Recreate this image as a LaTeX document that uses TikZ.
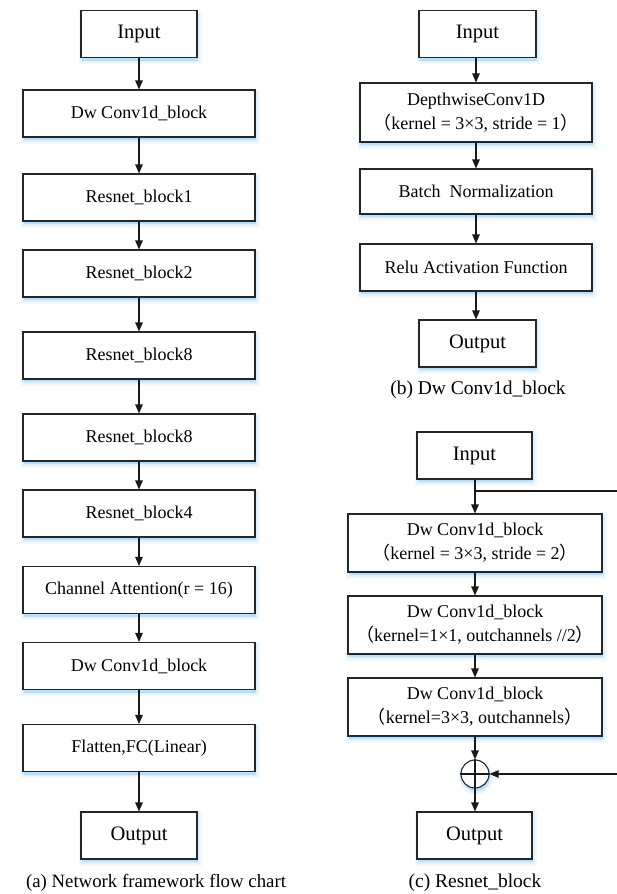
\documentclass[tikz,border=0pt]{standalone}
\usepackage{fontspec}
\setmainfont{Liberation Serif}
\newfontfamily\cjk{Noto Sans CJK SC}
\usetikzlibrary{arrows.meta}
\newcommand{\lp}{{\cjk （}}
\newcommand{\rp}{{\cjk ）}}
\colorlet{shadowblue}{blue!45!cyan!55!white}
\tikzset{
  % soft bluish shadow built from a few stacked, offset copies of the outline
  softshadow/.style={
    preaction={draw=shadowblue, fill=shadowblue, line width=7pt, opacity=0.10,
      transform canvas={shift={(1pt,-3pt)}}},
    preaction={draw=shadowblue, fill=shadowblue, line width=3.5pt, opacity=0.14,
      transform canvas={shift={(1pt,-3pt)}}},
    preaction={fill=shadowblue, opacity=0.2,
      transform canvas={shift={(1pt,-3pt)}}}},
  box/.style={softshadow, draw=black!85, line width=1.1pt, fill=white,
    inner sep=0pt, align=center, font=\fontsize{18}{24}\selectfont},
  wide/.style={box, minimum width=232pt, minimum height=47pt},
  io/.style={box, minimum width=116pt, minimum height=47pt,
    font=\fontsize{20.5}{24}\selectfont},
  res/.style={box, minimum width=254pt, minimum height=58pt},
  flow/.style={line width=1.1pt, draw=black!90,
    -{Triangle[length=9pt,width=7.5pt]}},
  plain/.style={line width=1.1pt, draw=black!90},
  caption/.style={font=\fontsize{19.5}{24}\selectfont, inner sep=0pt}
}
\begin{document}
\begin{tikzpicture}[x=1pt, y=-1pt]
\useasboundingbox (0,0) rectangle (617,894);

% (a) network framework
\node[io]   (ain) at (139,34)    {Input};
\node[wide] (a1)  at (139,113.5) {Dw Conv1d\_block};
\node[wide] (a2)  at (139,197.5) {Resnet\_block1};
\node[wide] (a3)  at (139,273.5) {Resnet\_block2};
\node[wide] (a4)  at (139,355.5) {Resnet\_block8};
\node[wide] (a5)  at (139,437.5) {Resnet\_block8};
\node[wide] (a6)  at (139,513.5) {Resnet\_block4};
\node[wide] (a7)  at (139,590)   {Channel Attention(r = 16)};
\node[wide] (a8)  at (139,666)   {Dw Conv1d\_block};
\node[wide] (a9)  at (139,748)   {Flatten,FC(Linear)};
\node[io]   (aout) at (139,835.5) {Output};
\node[caption, font=\fontsize{18.8}{24}\selectfont] (capa) at (156,883)
  {(a) Network framework flow chart};
\foreach \p/\q in {ain/a1,a1/a2,a2/a3,a3/a4,a4/a5,a5/a6,a6/a7,a7/a8,a8/a9,a9/aout}
  \draw[flow] (\p) -- (\q);

% (b) depthwise conv block
\node[io, minimum width=117pt] (bin) at (477.5,34) {Input};
\node[wide, minimum height=59pt] (b1) at (476,112.5)
  {DepthwiseConv1D\\\lp kernel = 3×3, stride = 1\rp};
\node[wide, minimum height=45pt] (b2) at (476,191.5) {Batch\ \ Normalization};
\node[wide] (b3) at (476,267.5) {Relu Activation Function};
\node[io, minimum width=117pt] (bout) at (477.5,343.5) {Output};
\node[caption] (capb) at (478,390) {(b) Dw Conv1d\_block};
\draw[flow] (bin.south -| b1.north) -- (b1);
\draw[flow] (b1) -- (b2);
\draw[flow] (b2) -- (b3);
\draw[flow] (b3) -- (b3.south |- bout.north);

% (c) residual block
\node[io, minimum width=115pt] (cin) at (474.5,455.5) {Input};
\node[res] (c1) at (475,543) {Dw Conv1d\_block\\\lp kernel = 3×3, stride = 2\rp};
\node[res] (c2) at (475,625) {Dw Conv1d\_block\\\lp kernel=1×1, outchannels //2\rp};
\node[res] (c3) at (475,707) {Dw Conv1d\_block\\\lp kernel=3×3, outchannels\rp};
\node[softshadow, circle, draw=black!85, line width=1.1pt, minimum size=28pt,
  inner sep=0pt, fill=white] (sum) at (475,774) {};
\draw[plain] (sum.north) -- (sum.south) (sum.west) -- (sum.east);
\node[io, minimum width=115pt] (cout) at (474.5,835.5) {Output};
\node[caption] (capc) at (475,883) {(c) Resnet\_block};

\coordinate (split) at (475,491);
\coordinate (skipout) at (620,491);
\coordinate (skipin) at (620,774);
\draw[flow] (cin.south -| c1.north) -- (c1);
\draw[plain] (split) -- (skipout);
\draw[flow] (c1) -- (c2);
\draw[flow] (c2) -- (c3);
\draw[flow] (c3) -- (sum);
\draw[flow] (skipin) -- (sum);
\draw[flow] (sum) -- (sum.south |- cout.north);
\end{tikzpicture}
\end{document}
